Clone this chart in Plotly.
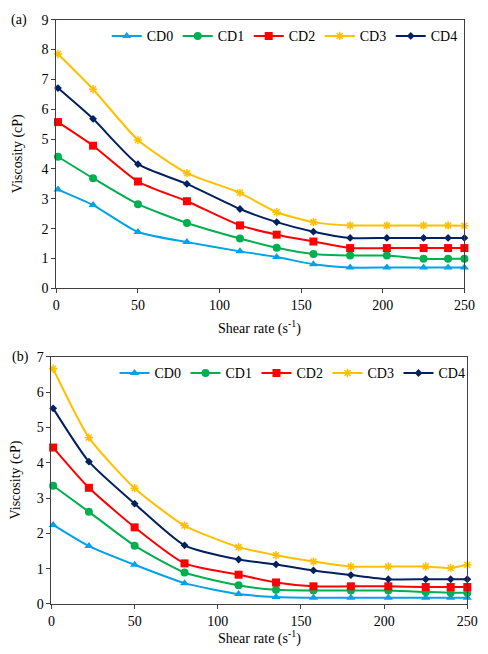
import plotly.graph_objects as go

shear_rate = [1, 22.5, 50, 80, 112.5, 135, 157.5, 180, 202.5, 225, 240, 250]
series_names = ["CD0", "CD1", "CD2", "CD3", "CD4"]

# Panel (a)
a_CD0 = [3.31, 2.79, 1.89, 1.55, 1.24, 1.05, 0.81, 0.70, 0.70, 0.70, 0.70, 0.70]
a_CD1 = [4.41, 3.69, 2.82, 2.19, 1.67, 1.36, 1.15, 1.10, 1.10, 0.99, 0.99, 0.99]
a_CD2 = [5.57, 4.78, 3.58, 2.92, 2.11, 1.80, 1.57, 1.35, 1.35, 1.35, 1.35, 1.35]
a_CD3 = [7.85, 6.67, 4.97, 3.86, 3.20, 2.55, 2.22, 2.11, 2.11, 2.11, 2.11, 2.10]
a_CD4 = [6.71, 5.68, 4.16, 3.50, 2.66, 2.22, 1.90, 1.69, 1.69, 1.69, 1.69, 1.69]

# Panel (b)
b_CD0 = [2.24, 1.64, 1.11, 0.59, 0.28, 0.20, 0.18, 0.18, 0.18, 0.18, 0.18, 0.18]
b_CD1 = [3.35, 2.61, 1.65, 0.89, 0.53, 0.40, 0.38, 0.38, 0.38, 0.34, 0.32, 0.32]
b_CD2 = [4.43, 3.29, 2.17, 1.15, 0.83, 0.61, 0.50, 0.50, 0.50, 0.48, 0.48, 0.48]
b_CD3 = [6.66, 4.71, 3.28, 2.22, 1.61, 1.38, 1.20, 1.06, 1.06, 1.06, 1.02, 1.11]
b_CD4 = [5.54, 4.03, 2.84, 1.66, 1.26, 1.12, 0.95, 0.82, 0.70, 0.70, 0.70, 0.70]

x_ticks = [0, 50, 100, 150, 200, 250]
a_y_ticks = [0, 1, 2, 3, 4, 5, 6, 7, 8, 9]
b_y_ticks = [0, 1, 2, 3, 4, 5, 6, 7]

colors = ["#00A2E8", "#00B050", "#FF0000", "#FFC000", "#002060"]
symbols = ["triangle-up", "circle", "square", "asterisk-open", "diamond"]
msizes = [8, 8, 8, 7, 6]

FONT = "Liberation Serif"
W, H = 488, 654

fig = go.Figure()

for panel, data, xa, ya, leg in [
    ("a", [a_CD0, a_CD1, a_CD2, a_CD3, a_CD4], "x", "y", "legend"),
    ("b", [b_CD0, b_CD1, b_CD2, b_CD3, b_CD4], "x2", "y2", "legend2"),
]:
    for i, name in enumerate(series_names):
        fig.add_trace(go.Scatter(
            x=shear_rate, y=data[i], name=name, mode="lines+markers",
            xaxis=xa, yaxis=ya, legend=leg,
            line=dict(color=colors[i], width=2, shape="spline", smoothing=0.6),
            marker=dict(symbol=symbols[i], size=msizes[i], color=colors[i],
                        line=dict(color=colors[i], width=1.5 if i == 3 else 0)),
            cliponaxis=False,
        ))

def px_x(p):
    return p / W

def px_y(p):
    return 1 - p / H

def axis_style():
    return dict(
        showgrid=False, zeroline=False, showline=True, linecolor="#404040",
        linewidth=1, mirror=True, ticks="outside", ticklen=4, tickcolor="#404040",
        tickfont=dict(family=FONT, size=14, color="black"), ticklabeloverflow="allow",
    )

def legend_style(xp, yp):
    return dict(orientation="h", xanchor="left", yanchor="middle", x=px_x(xp), y=px_y(yp),
                font=dict(family=FONT, size=14, color="black"),
                bgcolor="rgba(0,0,0,0)", itemwidth=30, tracegroupgap=0,
                entrywidth=26, entrywidthmode="pixels")

fig.update_layout(
    width=W, height=H,
    margin=dict(l=0, r=0, t=0, b=0),
    paper_bgcolor="white", plot_bgcolor="white",
    font=dict(family=FONT, size=14, color="black"),
    showlegend=True,
    xaxis=dict(domain=[px_x(54), px_x(475)], range=[0, 250], tickvals=x_ticks,
               anchor="y", **axis_style()),
    yaxis=dict(domain=[px_y(288), px_y(13)], range=[0, 9], tickvals=a_y_ticks,
               anchor="x", **axis_style()),
    xaxis2=dict(domain=[px_x(49), px_x(478)], range=[0, 250], tickvals=x_ticks,
                anchor="y2", **axis_style()),
    yaxis2=dict(domain=[px_y(611), px_y(358)], range=[0, 7], tickvals=b_y_ticks,
                anchor="x2", **axis_style()),
    legend=legend_style(106, 30),
    legend2=legend_style(114, 375),
)

ann = [
    dict(text="(a)", x=px_x(15), y=px_y(13), xanchor="center", yanchor="middle"),
    dict(text="(b)", x=px_x(17), y=px_y(358), xanchor="center", yanchor="middle"),
    dict(text="Viscosity (cP)", x=px_x(14), y=px_y(150), textangle=-90,
         xanchor="center", yanchor="middle"),
    dict(text="Viscosity (cP)", x=px_x(12), y=px_y(484), textangle=-90,
         xanchor="center", yanchor="middle"),
    dict(text="Shear rate (s<sup>-1</sup>)", x=px_x(264), y=px_y(328),
         xanchor="center", yanchor="middle"),
    dict(text="Shear rate (s<sup>-1</sup>)", x=px_x(264), y=px_y(645),
         xanchor="center", yanchor="middle"),
]
for a in ann:
    fig.add_annotation(xref="paper", yref="paper", showarrow=False,
                       font=dict(family=FONT, size=14, color="black"), **a)

fig.write_html(
    "out.html",
    config={"displayModeBar": False},
    post_script="document.body.style.margin='0';document.body.style.overflow='hidden';",
)
